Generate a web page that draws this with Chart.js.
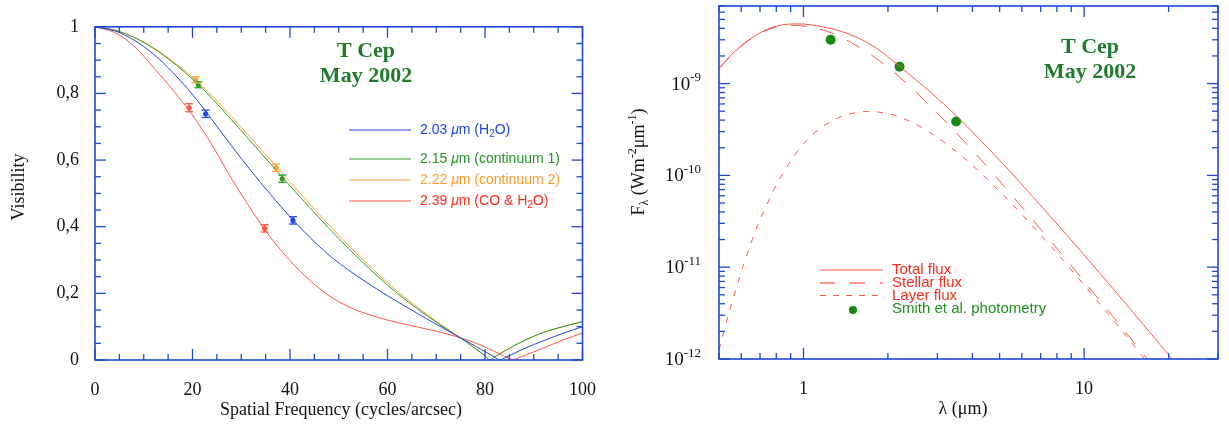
<!DOCTYPE html>
<html>
<head>
<meta charset="utf-8">
<script src="https://cdn.jsdelivr.net/npm/chart.js@4.4.1/dist/chart.umd.min.js"></script>
<style>
html,body{margin:0;padding:0;background:#fff;}
#izq{position:absolute;left:0;top:0;}
#der{position:absolute;left:615px;top:0;}
</style>
</head>
<body>
<canvas id="izq" width="615" height="425"></canvas>
<canvas id="der" width="614" height="425"></canvas>
<script>
// ---- Visibilidad (panel izquierdo) ----
const frecuencias = [0,4,8,12,16,20,24,28,32,36,40,44,48,52,56,60,64,68,72,76,78,80,81,82,83,84,85,86,88,92,96,100];
const vis203 = [1.0,0.988,0.96,0.918,0.862,0.797,0.721,0.643,0.568,0.497,0.43,0.369,0.315,0.27,0.23,0.193,0.158,0.124,0.091,0.058,0.042,0.025,0.017,0.008,0.0,0.006,0.013,0.02,0.034,0.058,0.08,0.1];
const vis215 = [1.0,0.99,0.968,0.935,0.893,0.843,0.785,0.721,0.655,0.589,0.523,0.458,0.395,0.335,0.278,0.225,0.177,0.134,0.094,0.056,0.034,0.013,0.0,0.009,0.018,0.027,0.035,0.043,0.058,0.083,0.1,0.115];
const vis222 = [1.0,0.99,0.969,0.937,0.896,0.849,0.793,0.731,0.666,0.6,0.534,0.469,0.405,0.344,0.286,0.232,0.183,0.138,0.096,0.057,0.035,0.013,0.0,0.009,0.018,0.027,0.035,0.043,0.058,0.083,0.1,0.116];
const vis239 = [1.0,0.983,0.942,0.878,0.81,0.735,0.645,0.545,0.452,0.368,0.298,0.24,0.193,0.16,0.137,0.12,0.106,0.093,0.079,0.062,0.051,0.039,0.032,0.025,0.018,0.011,0.004,0.002,0.013,0.036,0.06,0.081];

// medidas: [frecuencia, visibilidad, error]
const medidas203 = [[22.7,0.739,0.011],[40.6,0.419,0.011]];
const medidas215 = [[21.2,0.826,0.009],[38.4,0.544,0.011]];
const medidas222 = [[20.6,0.841,0.009],[37.1,0.577,0.011]];
const medidas239 = [[19.3,0.757,0.012],[34.8,0.395,0.011]];

const etiquetasLeyenda = ["2.03", "2.15", "2.22", "2.39"];

// ---- SED (panel derecho) ----
const lambdaTotal = [0.5,0.57,0.68,0.8,0.96,1.17,1.45,1.8,2.2,2.85,3.5,5.0,6.6,8.7,11.4,15,20.1,22];
const flujoTotal = [1.45e-9,2.25e-9,3.39e-9,4.22e-9,4.47e-9,4.16e-9,3.47e-9,2.48e-9,1.54e-9,7.94e-10,4.47e-10,1.46e-10,5.75e-11,2.22e-11,8.53e-12,3.18e-12,1.09e-12,7.8e-13];
const lambdaEstrella = [0.5,0.57,0.68,0.8,0.96,1.17,1.39,1.8,2.31,2.99,3.64,4.7,5.78,7.3,9.07,10.8,13.1,15.8,16.7,18];
const flujoEstrella = [1.45e-9,2.24e-9,3.36e-9,4.13e-9,4.28e-9,3.85e-9,3.1e-9,1.92e-9,1.03e-9,4.81e-10,2.56e-10,1.08e-10,5.16e-11,2.23e-11,1.01e-11,5.28e-12,2.56e-12,1.26e-12,1.02e-12,7.7e-13];
const lambdaCapa = [0.5,0.52,0.54,0.557,0.58,0.605,0.63,0.657,0.693,0.732,0.785,0.83,0.911,0.99,1.1,1.265,1.45,1.71,2.01,2.31,2.65,3.0,3.37,3.75,4.29,4.85,5.45,6.1,7.3,9.07,10.8,13.1,15.8,16.5,18];
const flujoCapa = [1.25e-12,1.98e-12,3.0e-12,4.24e-12,6.32e-12,9.66e-12,1.38e-11,2.0e-11,3.04e-11,4.44e-11,7.0e-11,9.57e-11,1.52e-10,2.13e-10,2.94e-10,3.94e-10,4.65e-10,4.97e-10,4.69e-10,4.07e-10,3.3e-10,2.58e-10,2.0e-10,1.53e-10,1.06e-10,7.33e-11,5.13e-11,3.55e-11,1.95e-11,9.1e-12,4.84e-12,2.37e-12,1.16e-12,9.9e-13,7.1e-13];
const lambdaSmith = [1.25,2.2,3.5];
const flujoSmith = [3.0e-9,1.53e-9,3.86e-10];

const etiquetasX2 = [1, 10];
const exponentesY2 = [-12, -11, -10, -9];

// colores
const AZUL_EJE = "#1f48d6";
const AZUL = "#2347e6";
const VERDE = "#2f9a2f";
const NARANJA = "#ffa233";
const ROJO = "#ff5446";
const ROJO_TXT = "#ff2a1a";
const VERDE_TXT = "#1f8f1f";
const VERDE_TIT = "#1f7a2a";
const SERIF = "'Liberation Serif', 'DejaVu Serif', serif";
const SANS = "'Liberation Sans', Arial, sans-serif";

function linea(ctx, x1, y1, x2, y2){
    ctx.beginPath();
    ctx.moveTo(x1, y1);
    ctx.lineTo(x2, y2);
    ctx.stroke();
}

// texto con trozos normales, cursiva, subindice y superindice
function textoRico(ctx, x, y, partes, size, family, color, dibujar){
    let cx = x;
    ctx.fillStyle = color;
    ctx.textBaseline = "middle";
    ctx.textAlign = "left";
    for (const [t, tipo] of partes){
        let font = size + "px " + family;
        let dy = 0;
        if (tipo === "i") font = "italic " + font;
        if (tipo === "sub"){ font = Math.round(size*0.68) + "px " + family; dy = size*0.32; }
        if (tipo === "sup"){ font = Math.round(size*0.68) + "px " + family; dy = -size*0.36; }
        ctx.font = font;
        if (dibujar !== false) ctx.fillText(t, cx, y + dy);
        cx += ctx.measureText(t).width;
    }
    return cx - x;
}

function titulo(ctx, cx, y1, y2){
    ctx.save();
    ctx.fillStyle = VERDE_TIT;
    ctx.font = "bold 22px " + SERIF;
    ctx.textAlign = "center";
    ctx.textBaseline = "alphabetic";
    ctx.fillText("T Cep", cx, y1);
    ctx.fillText("May 2002", cx, y2);
    ctx.restore();
}

// ---------------- panel izquierdo ----------------
const series = [
    {vis: vis203, med: medidas203, color: AZUL, txt: "#1d44e8", sub: true,  resto: " (H", fin: "O)"},
    {vis: vis215, med: medidas215, color: VERDE, txt: "#23922a", sub: false, resto: " (continuum 1)", fin: ""},
    {vis: vis222, med: medidas222, color: NARANJA, txt: "#ff9a26", sub: false, resto: " (continuum 2)", fin: ""},
    {vis: vis239, med: medidas239, color: ROJO, txt: ROJO_TXT, sub: true, resto: " (CO & H", fin: "O)"}
];

const datasetsIzq = [];
series.forEach(s => {
    datasetsIzq.push({
        data: frecuencias.map((f, i) => ({x: f, y: s.vis[i]})),
        borderColor: s.color,
        borderWidth: 1,
        pointRadius: 0,
        tension: 0.35
    });
});
series.forEach(s => {
    datasetsIzq.push({
        data: s.med.map(m => ({x: m[0], y: m[1]})),
        showLine: false,
        pointRadius: 2.6,
        pointBorderWidth: 0,
        pointBackgroundColor: s.color
    });
});

const pluginIzq = {
    id: "marcoIzq",
    afterDatasetsDraw(chart){
        const {ctx, scales: {x, y}} = chart;
        ctx.save();
        ctx.lineWidth = 1.3;
        series.forEach(s => {
            ctx.strokeStyle = s.color;
            s.med.forEach(m => {
                const px = x.getPixelForValue(m[0]);
                const y1 = y.getPixelForValue(m[1] - m[2]);
                const y2 = y.getPixelForValue(m[1] + m[2]);
                linea(ctx, px, y1, px, y2);
                linea(ctx, px - 4, y1, px + 4, y1);
                linea(ctx, px - 4, y2, px + 4, y2);
            });
        });
        ctx.restore();
    },
    afterDraw(chart){
        const {ctx, chartArea: a, scales: {x, y}} = chart;
        ctx.save();
        ctx.strokeStyle = AZUL_EJE;
        ctx.lineWidth = 1.6;
        ctx.strokeRect(a.left, a.top, a.right - a.left, a.bottom - a.top);
        ctx.lineWidth = 1.3;
        for (let f = 0; f <= 100; f += 5){
            const px = x.getPixelForValue(f);
            const l = f % 20 === 0 ? 11 : 6;
            linea(ctx, px, a.bottom, px, a.bottom - l);
            linea(ctx, px, a.top, px, a.top + l);
        }
        for (let k = 0; k <= 20; k++){
            const py = y.getPixelForValue(k * 0.05);
            const l = k % 4 === 0 ? 11 : 6;
            linea(ctx, a.left, py, a.left + l, py);
            linea(ctx, a.right, py, a.right - l, py);
        }

        // leyenda
        const filas = [130, 159, 180, 201];
        series.forEach((s, i) => {
            ctx.strokeStyle = s.color;
            ctx.lineWidth = 1.2;
            linea(ctx, 349, filas[i], 411, filas[i]);
            const partes = [[etiquetasLeyenda[i] + " ", ""], ["μ", "i"], ["m" + s.resto, ""]];
            if (s.sub){ partes.push(["2", "sub"]); partes.push([s.fin, ""]); }
            textoRico(ctx, 420, filas[i], partes, 14, SANS, s.txt);
        });

        titulo(ctx, 366, 57, 82);

        // titulos de ejes
        ctx.fillStyle = "#111";
        ctx.font = "18px " + SERIF;
        ctx.textAlign = "center";
        ctx.textBaseline = "alphabetic";
        ctx.fillText("Spatial Frequency (cycles/arcsec)", 341, 415);
        ctx.translate(19, 187);
        ctx.rotate(-Math.PI / 2);
        ctx.textBaseline = "middle";
        ctx.fillText("Visibility", 0, 0);
        ctx.restore();
    }
};

new Chart(document.getElementById("izq"), {
    type: "line",
    data: {datasets: datasetsIzq},
    options: {
        responsive: false,
        animation: false,
        layout: {padding: {top: 12, right: 29, left: 0, bottom: 0}},
        plugins: {legend: {display: false}, tooltip: {enabled: false}},
        scales: {
            x: {
                type: "linear", min: 0, max: 100,
                grid: {display: false, drawTicks: false},
                border: {display: false},
                ticks: {stepSize: 20, padding: 19, color: "#111", font: {size: 18, family: SERIF}, maxRotation: 0},
                afterFit(s){ s.height = 65; }
            },
            y: {
                min: 0, max: 1,
                grid: {display: false, drawTicks: false},
                border: {display: false},
                ticks: {
                    stepSize: 0.2, padding: 16, color: "#111", font: {size: 18, family: SERIF},
                    callback: v => Math.abs(v - Math.round(v)) < 1e-9 ? String(Math.round(v)) : v.toFixed(1).replace(".", ",")
                },
                afterFit(s){ s.width = 95; }
            }
        }
    },
    plugins: [pluginIzq]
});

// ---------------- panel derecho ----------------
const pluginDer = {
    id: "marcoDer",
    afterDraw(chart){
        const {ctx, chartArea: a, scales: {x, y}} = chart;
        ctx.save();
        ctx.strokeStyle = AZUL_EJE;
        ctx.lineWidth = 1.6;
        ctx.strokeRect(a.left, a.top, a.right - a.left, a.bottom - a.top);
        ctx.lineWidth = 1.3;
        [0.1, 1, 10].forEach(d => {
            for (let m = 1; m <= 9; m++){
                const v = m * d;
                if (v < x.min - 1e-9 || v > x.max + 1e-9) continue;
                const px = x.getPixelForValue(v);
                const l = m === 1 ? 11 : 6;
                linea(ctx, px, a.bottom, px, a.bottom - l);
                linea(ctx, px, a.top, px, a.top + l);
            }
        });
        for (let e = -12; e <= -9; e++){
            for (let m = 1; m <= 9; m++){
                const v = m * Math.pow(10, e);
                if (v < y.min * 0.999 || v > y.max * 1.001) continue;
                const py = y.getPixelForValue(v);
                const l = m === 1 ? 11 : 6;
                linea(ctx, a.left, py, a.left + l, py);
                linea(ctx, a.right, py, a.right - l, py);
            }
        }

        // etiquetas del eje y con exponente
        exponentesY2.forEach(e => {
            const py = y.getPixelForValue(Math.pow(10, e));
            const w = textoRico(ctx, 0, 0, [["10", ""], [String(e), "sup"]], 19, SERIF, "#111", false);
            textoRico(ctx, 86 - w, py + 1, [["10", ""], [String(e), "sup"]], 19, SERIF, "#111");
        });

        // leyenda
        const x1 = 205, x2 = 268;
        ctx.strokeStyle = ROJO;
        ctx.lineWidth = 1.2;
        linea(ctx, x1, 270, x2, 270);
        ctx.setLineDash([15, 15]);
        linea(ctx, x1, 283, x2, 283);
        ctx.setLineDash([6, 7]);
        linea(ctx, x1, 295.5, x2, 295.5);
        ctx.setLineDash([]);
        ctx.fillStyle = "#148a14";
        ctx.beginPath();
        ctx.arc(238, 310, 4, 0, Math.PI * 2);
        ctx.fill();
        ctx.font = "15px " + SANS;
        ctx.textAlign = "left";
        ctx.textBaseline = "middle";
        ctx.fillStyle = ROJO_TXT;
        ctx.fillText("Total flux", 277, 270);
        ctx.fillText("Stellar flux", 277, 283);
        ctx.fillText("Layer flux", 277, 295.5);
        ctx.fillStyle = VERDE_TXT;
        ctx.fillText("Smith et al. photometry", 277, 309);

        titulo(ctx, 475, 53, 78);

        ctx.fillStyle = "#111";
        ctx.font = "18px " + SERIF;
        ctx.textAlign = "center";
        ctx.textBaseline = "alphabetic";
        ctx.fillText("λ (μm)", 348, 414);

        const partes = [["F", ""], ["λ", "sub"], [" (Wm", ""], ["-2", "sup"], ["μm", ""], ["-1", "sup"], [")", ""]];
        const w = textoRico(ctx, 0, 0, partes, 18, SERIF, "#111", false);
        ctx.translate(24, 162);
        ctx.rotate(-Math.PI / 2);
        textoRico(ctx, -w / 2, 0, partes, 18, SERIF, "#111");
        ctx.restore();
    }
};

new Chart(document.getElementById("der"), {
    type: "line",
    data: {
        datasets: [
            {data: lambdaTotal.map((l, i) => ({x: l, y: flujoTotal[i]})), borderColor: ROJO, borderWidth: 1, pointRadius: 0, tension: 0.35},
            {data: lambdaEstrella.map((l, i) => ({x: l, y: flujoEstrella[i]})), borderColor: ROJO, borderWidth: 1, borderDash: [15, 14], pointRadius: 0, tension: 0.35},
            {data: lambdaCapa.map((l, i) => ({x: l, y: flujoCapa[i]})), borderColor: ROJO, borderWidth: 1, borderDash: [6, 8], pointRadius: 0, tension: 0.35},
            {data: lambdaSmith.map((l, i) => ({x: l, y: flujoSmith[i]})), showLine: false, pointRadius: 5, pointBorderWidth: 0, pointBackgroundColor: "#148a14"}
        ]
    },
    options: {
        responsive: false,
        animation: false,
        layout: {padding: {top: 6, right: 11, left: 0, bottom: 0}},
        plugins: {legend: {display: false}, tooltip: {enabled: false}},
        scales: {
            x: {
                type: "logarithmic", min: 0.5, max: 30,
                grid: {display: false, drawTicks: false},
                border: {display: false},
                afterBuildTicks(s){ s.ticks = etiquetasX2.map(v => ({value: v})); },
                ticks: {autoSkip: false, maxRotation: 0, padding: 19, color: "#111", font: {size: 18, family: SERIF}, callback: v => String(v)},
                afterFit(s){ s.height = 66; }
            },
            y: {
                type: "logarithmic", min: 1e-12, max: 7e-9,
                grid: {display: false, drawTicks: false},
                border: {display: false},
                ticks: {display: false},
                afterFit(s){ s.width = 104; }
            }
        }
    },
    plugins: [pluginDer]
});
</script>
</body>
</html>
